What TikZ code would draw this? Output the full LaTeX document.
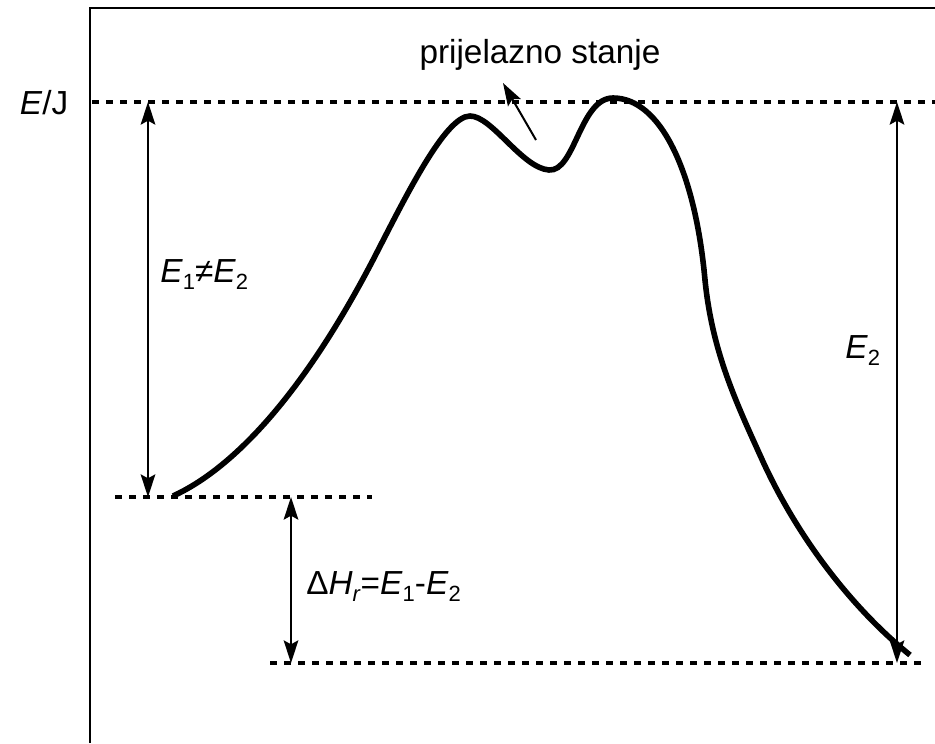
\documentclass[tikz,border=0pt]{standalone}
\usepackage{fontspec}
\setmainfont{Liberation Sans}
\usetikzlibrary{arrows.meta}

\tikzset{
  bigtip/.tip={Stealth[length=17pt,width=11pt,inset=3pt]},
  level/.style={line width=2.4pt, dash pattern=on 5pt off 5.5pt},
  dim/.style={line width=1.5pt, bigtip-bigtip},
  lbl/.style={font=\fontsize{25}{29}\selectfont, inner sep=0pt}
}
\newcommand{\sub}[1]{\raisebox{-0.4ex}{\fontsize{16.5}{18}\selectfont #1}}

\begin{document}
\begin{tikzpicture}[x=0.75pt, y=-0.75pt]
  \useasboundingbox (0,0) rectangle (935,743);
  % Coordinates
  \coordinate (O) at (90,743);
  \coordinate (T) at (90,8);
  \coordinate (R) at (935,8);
  \coordinate (TopL) at (92,102);
  \coordinate (TopR) at (935,102);
  \coordinate (MidL) at (115,497);
  \coordinate (MidR) at (372,497);
  \coordinate (BotL) at (270,663);
  \coordinate (BotR) at (925,663);
  \coordinate (A1) at (148,102);
  \coordinate (A2) at (148,497);
  \coordinate (B1) at (291,497);
  \coordinate (B2) at (291,663);
  \coordinate (C1) at (897,102);
  \coordinate (C2) at (897,663);
  \coordinate (P1) at (536,140);
  \coordinate (P2) at (503,83);
  \coordinate (S) at (173,496);
  \coordinate (K1) at (373,260);
  \coordinate (M1) at (470,116);
  \coordinate (V) at (549,170);
  \coordinate (M2) at (613,98);
  \coordinate (K2) at (705,280);
  \coordinate (K3) at (760,455);
  \coordinate (F) at (910,655);

  % Drawing
  \draw[line width=2.2pt] (O) -- (T) -- (R);
  \draw[level] (TopL) -- (TopR);
  \draw[level] (MidL) -- (MidR);
  \draw[level] (BotL) -- (BotR);
  \draw[dim] (A1) -- (A2);
  \draw[dim] (B1) -- (B2);
  \draw[dim] (C1) -- (C2);
  \draw[line width=4.2pt] (S) .. controls (230,470) and (300,400) .. (K1)
    .. controls (405,198) and (445,116) .. (M1)
    .. controls (492,116) and (522,168) .. (V)
    .. controls (575,172) and (580,98) .. (M2)
    .. controls (660,98) and (695,170) .. (K2)
    .. controls (712,350) and (735,400) .. (K3)
    .. controls (800,545) and (860,615) .. (F);
  \draw[line width=1.5pt, -bigtip] (P1) -- (P2);

  \node[lbl] (ej) at (44,103) {\textit{E}/J};
  \node[lbl, anchor=west] (e12) at (160,275) {\textit{E}\sub{1}\textit{≠E}\sub{2}};
  \node[lbl, anchor=west] (dh) at (306,587) {Δ\textit{H}\sub{\textit{r}}=\textit{E}\sub{1}-\textit{E}\sub{2}};
  \node[lbl, anchor=west] (e2) at (845,351) {\textit{E}\sub{2}};
  \node[lbl] (ts) at (540,55) {prijelazno stanje};
\end{tikzpicture}
\end{document}
